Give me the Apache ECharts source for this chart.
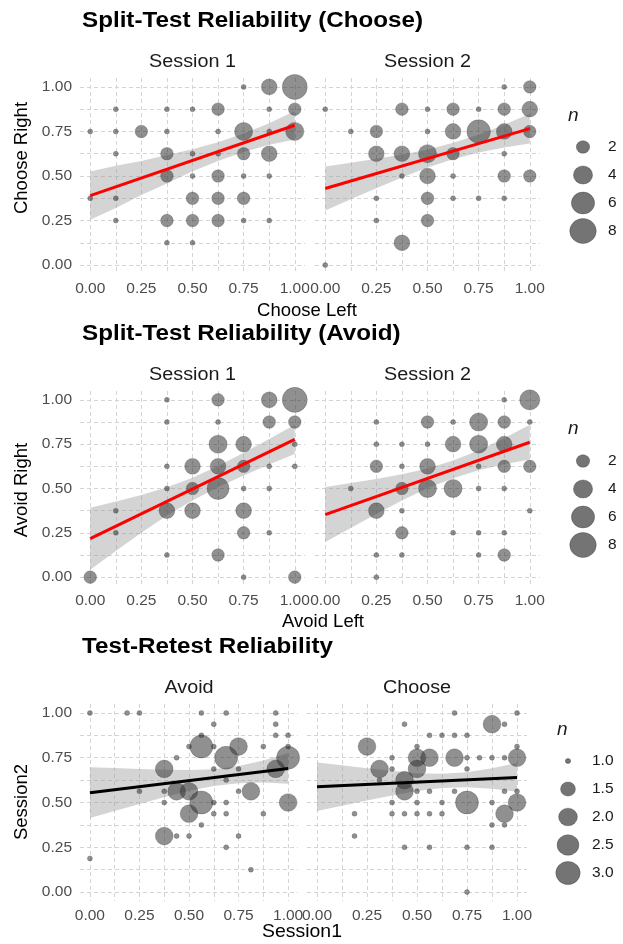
<!DOCTYPE html>
<html>
<head>
<meta charset="utf-8">
<style>html,body{margin:0;padding:0;background:#fff}#chart{width:623px;height:944px}</style>
<script src="https://cdn.jsdelivr.net/npm/echarts@6/dist/echarts.min.js"></script>
</head>
<body>
<div id="chart"></div>
<script>
// ---------- data ----------
const tickVals = [0, 0.25, 0.5, 0.75, 1];
const gridVals = [0, 0.125, 0.25, 0.375, 0.5, 0.625, 0.75, 0.875, 1];
const bandX = [0, 0.125, 0.25, 0.375, 0.5, 0.625, 0.75, 0.875, 1];

// [x, y, n]
const chooseS1 = [
  [0.75,1,1],[0.875,1,3],[1,1,8],
  [0.125,0.875,1],[0.375,0.875,1],[0.5,0.875,1],[0.625,0.875,2],[0.875,0.875,1],[1,0.875,2],
  [0,0.75,1],[0.125,0.75,1],[0.25,0.75,2],[0.375,0.75,1],[0.625,0.75,1],[0.75,0.75,4],[0.875,0.75,1],[1,0.75,4],
  [0.125,0.625,1],[0.375,0.625,2],[0.5,0.625,1],[0.625,0.625,1],[0.75,0.625,2],[0.875,0.625,3],
  [0.375,0.5,2],[0.5,0.5,1],[0.625,0.5,2],[0.75,0.5,1],[0.875,0.5,1],
  [0,0.375,1],[0.125,0.375,1],[0.5,0.375,2],[0.625,0.375,2],[0.75,0.375,2],
  [0.125,0.25,1],[0.375,0.25,2],[0.5,0.25,2],[0.625,0.25,2],[0.75,0.25,1],[0.875,0.25,1],
  [0.375,0.125,1],[0.5,0.125,1]
];
const chooseS2 = [
  [0.875,1,1],[1,1,2],
  [0,0.875,1],[0.375,0.875,2],[0.5,0.875,1],[0.625,0.875,2],[0.75,0.875,1],[0.875,0.875,2],[1,0.875,3],
  [0.125,0.75,1],[0.25,0.75,2],[0.5,0.75,1],[0.625,0.75,3],[0.75,0.75,7],[0.875,0.75,3],[1,0.75,2],
  [0.25,0.625,3],[0.375,0.625,3],[0.5,0.625,4],[0.625,0.625,2],[0.875,0.625,1],
  [0.375,0.5,1],[0.5,0.5,3],[0.625,0.5,1],[0.875,0.5,2],[1,0.5,2],
  [0.25,0.375,1],[0.5,0.375,2],[0.625,0.375,1],[0.75,0.375,1],[0.875,0.375,1],
  [0.25,0.25,1],[0.5,0.25,2],
  [0.375,0.125,3],
  [0,0,1]
];
const avoidS1 = [
  [0.375,1,1],[0.625,1,2],[0.875,1,3],[1,1,8],
  [0.375,0.875,1],[0.625,0.875,1],[0.875,0.875,2],[1,0.875,2],
  [0.625,0.75,4],[0.75,0.75,3],[1,0.75,1],
  [0.375,0.625,1],[0.5,0.625,3],[0.625,0.625,3],[0.75,0.625,2],[0.875,0.625,1],[1,0.625,1],
  [0.375,0.5,1],[0.5,0.5,2],[0.625,0.5,6],[0.75,0.5,1],[0.875,0.5,1],
  [0.125,0.375,1],[0.375,0.375,3],[0.5,0.375,3],[0.75,0.375,3],
  [0.125,0.25,1],[0.75,0.25,2],[0.875,0.25,1],
  [0.375,0.125,1],[0.625,0.125,2],
  [0,0,2],[0.75,0,1],[1,0,2]
];
const avoidS2 = [
  [0.875,1,1],[1,1,5],
  [0.25,0.875,1],[0.5,0.875,2],[0.625,0.875,1],[0.75,0.875,4],[0.875,0.875,2],[1,0.875,1],
  [0.25,0.75,1],[0.375,0.75,1],[0.5,0.75,1],[0.625,0.75,3],[0.75,0.75,4],[0.875,0.75,3],
  [0.25,0.625,2],[0.375,0.625,1],[0.5,0.625,3],[0.75,0.625,1],[0.875,0.625,2],[1,0.625,2],
  [0.125,0.5,1],[0.375,0.5,2],[0.5,0.5,4],[0.625,0.5,4],[0.75,0.5,1],[0.875,0.5,1],
  [0.25,0.375,3],[0.375,0.375,1],[1,0.375,1],
  [0.375,0.25,2],[0.625,0.25,1],[0.75,0.25,1],[0.875,0.25,1],
  [0.25,0.125,1],[0.375,0.125,1],[0.75,0.125,1],[0.875,0.125,2],
  [0.25,0,1]
];
const retestAvoid = [
  [0,1,1],[0.1875,1,1],[0.25,1,1],[0.5625,1,1],[0.6875,1,1],[0.9375,1,1],
  [0.625,0.9375,1],[0.9375,0.9375,1],
  [0.5625,0.875,1],[0.9375,0.875,1],[1,0.875,1],
  [0.5,0.8125,1],[0.5625,0.8125,3],[0.625,0.8125,1],[0.75,0.8125,2],[0.875,0.8125,1],[1,0.8125,1],
  [0.4375,0.75,1],[0.6875,0.75,3],[1,0.75,3],
  [0.375,0.6875,2],[0.625,0.6875,1],[0.75,0.6875,1],[0.9375,0.6875,2],
  [0.6875,0.625,1],
  [0.25,0.5625,1],[0.375,0.5625,1],[0.4375,0.5625,2],[0.5,0.5625,2],[0.75,0.5625,1],[0.8125,0.5625,2],
  [0.375,0.5,1],[0.5625,0.5,3],[0.625,0.5,1],[0.6875,0.5,1],[1,0.5,2],
  [0.5,0.4375,2],[0.625,0.4375,1],[0.6875,0.4375,1],[0.875,0.4375,1],
  [0.5625,0.375,1],
  [0.375,0.3125,2],[0.4375,0.3125,1],[0.5,0.3125,1],[0.75,0.3125,1],
  [0.6875,0.25,1],
  [0,0.1875,1],
  [0.8125,0.125,1]
];
const retestChoose = [
  [0.6875,1,1],[1,1,1],
  [0.4375,0.9375,1],[0.875,0.9375,2],[0.9375,0.9375,1],
  [0.5625,0.875,1],[0.625,0.875,1],[0.6875,0.875,1],[0.75,0.875,1],
  [0.25,0.8125,2],[0.5,0.8125,1],[1,0.8125,1],
  [0.375,0.75,1],[0.5,0.75,2],[0.5625,0.75,2],[0.6875,0.75,2],[0.75,0.75,1],[0.8125,0.75,1],[0.875,0.75,1],[0.9375,0.75,1],[1,0.75,2],
  [0.3125,0.6875,2],[0.375,0.6875,1],[0.5,0.6875,2],[0.75,0.6875,1],
  [0.3125,0.625,1],[0.4375,0.625,2],
  [0.4375,0.5625,2],[0.5,0.5625,1],[0.5625,0.5625,1],[0.6875,0.5625,1],[0.9375,0.5625,1],[1,0.5625,1],
  [0.375,0.5,1],[0.5,0.5,1],[0.625,0.5,1],[0.75,0.5,3],[0.875,0.5,1],[1,0.5,2],
  [0.1875,0.4375,1],[0.375,0.4375,1],[0.4375,0.4375,1],[0.5,0.4375,1],[0.5625,0.4375,1],[0.625,0.4375,1],[0.9375,0.4375,2],
  [0.875,0.375,1],[0.9375,0.375,1],
  [0.1875,0.3125,1],
  [0.4375,0.25,1],[0.5625,0.25,1],[0.75,0.25,1],[0.875,0.25,1],
  [0.75,0,1]
];

// regression fit endpoints (x=0, x=1) and confidence band edges at bandX
const fitChooseS1 = [0.39, 0.785];
const loChooseS1 = [0.255, 0.321, 0.394, 0.458, 0.526, 0.584, 0.634, 0.676, 0.705];
const hiChooseS1 = [0.525, 0.557, 0.584, 0.618, 0.650, 0.690, 0.738, 0.796, 0.865];
const fitChooseS2 = [0.43, 0.766];
const loChooseS2 = [0.307, 0.369, 0.431, 0.492, 0.548, 0.594, 0.632, 0.660, 0.683];
const hiChooseS2 = [0.553, 0.575, 0.597, 0.620, 0.648, 0.686, 0.732, 0.788, 0.849];
const fitAvoidS1 = [0.217, 0.777];
const loAvoidS1 = [0.042, 0.147, 0.250, 0.347, 0.433, 0.507, 0.573, 0.635, 0.694];
const hiAvoidS1 = [0.392, 0.427, 0.464, 0.507, 0.561, 0.627, 0.701, 0.779, 0.860];
const fitAvoidS2 = [0.353, 0.761];
const loAvoidS2 = [0.198, 0.277, 0.356, 0.432, 0.501, 0.558, 0.603, 0.637, 0.663];
const hiAvoidS2 = [0.508, 0.531, 0.554, 0.580, 0.613, 0.658, 0.715, 0.783, 0.859];
const fitRetestAvoid = [0.555, 0.69];
const loRetestAvoid = [0.413, 0.452, 0.491, 0.529, 0.565, 0.592, 0.608, 0.611, 0.604];
const hiRetestAvoid = [0.697, 0.692, 0.687, 0.683, 0.681, 0.686, 0.704, 0.735, 0.776];
const fitRetestChoose = [0.588, 0.64];
const loRetestChoose = [0.453, 0.482, 0.511, 0.539, 0.564, 0.581, 0.585, 0.577, 0.560];
const hiRetestChoose = [0.723, 0.708, 0.691, 0.677, 0.664, 0.661, 0.669, 0.691, 0.720];

const legendSplit = [2, 4, 6, 8];
const legendRetest = [1.0, 1.5, 2.0, 2.5, 3.0];

// ---------- styling / layout ----------
const FONT = '"Liberation Sans", Arial, sans-serif';
const splitSize = n => 5 + 20 * Math.sqrt((n - 1) / 7);
const retestSize = n => 5 + 18 * Math.sqrt((n - 1) / 2);
const pointColor = 'rgba(50,50,50,0.68)';
const bandColor = 'rgba(153,153,153,0.42)';

const panels = [
  {grid:{left:80, top:78, width:225, height:196}, pts:chooseS1, fit:fitChooseS1, lo:loChooseS1, hi:hiChooseS1, line:'#ff0000', size:splitSize, yLab:true},
  {grid:{left:315, top:78, width:225, height:196}, pts:chooseS2, fit:fitChooseS2, lo:loChooseS2, hi:hiChooseS2, line:'#ff0000', size:splitSize, yLab:false},
  {grid:{left:80, top:391, width:225, height:195}, pts:avoidS1, fit:fitAvoidS1, lo:loAvoidS1, hi:hiAvoidS1, line:'#ff0000', size:splitSize, yLab:true},
  {grid:{left:315, top:391, width:225, height:195}, pts:avoidS2, fit:fitAvoidS2, lo:loAvoidS2, hi:hiAvoidS2, line:'#ff0000', size:splitSize, yLab:false},
  {grid:{left:80, top:704, width:218, height:197}, pts:retestAvoid, fit:fitRetestAvoid, lo:loRetestAvoid, hi:hiRetestAvoid, line:'#000000', size:retestSize, yLab:true},
  {grid:{left:307, top:704, width:220, height:197}, pts:retestChoose, fit:fitRetestChoose, lo:loRetestChoose, hi:hiRetestChoose, line:'#000000', size:retestSize, yLab:false}
];

const grids = [], xAxes = [], yAxes = [], series = [];
const splitLine = {show:true, lineStyle:{type:[4,3], color:'#d4d4d4', width:1}};
const labelStyle = {fontSize:15.5, color:'#4d4d4d', fontFamily:FONT, formatter: v => Number(v).toFixed(2)};

panels.forEach((p, i) => {
  grids.push(Object.assign({containLabel:false}, p.grid));
  xAxes.push({type:'value', gridIndex:i, min:-0.05, max:1.05,
    axisLine:{show:false}, axisTick:{show:false, customValues:gridVals},
    axisLabel:Object.assign({customValues:tickVals, margin:7}, labelStyle),
    splitLine:splitLine});
  yAxes.push({type:'value', gridIndex:i, min:-0.05, max:1.05,
    axisLine:{show:false}, axisTick:{show:false, customValues:gridVals},
    axisLabel:Object.assign({customValues:tickVals, margin:8, show:p.yLab}, labelStyle),
    splitLine:splitLine});
  series.push({type:'scatter', xAxisIndex:i, yAxisIndex:i, data:p.pts,
    symbolSize: v => p.size(v[2]),
    itemStyle:{color:pointColor, borderColor:'rgba(40,40,40,0.5)', borderWidth:0.6},
    clip:true, silent:true});
  const bandData = bandX.map((x, k) => [x, p.lo[k], p.hi[k]]);
  series.push({type:'custom', xAxisIndex:i, yAxisIndex:i, data:bandData, silent:true,
    encode:{x:0, y:[1, 2]},
    renderItem: (params, api) => {
      if (params.dataIndex !== 0) return null;
      const lower = bandData.map(d => api.coord([d[0], d[1]]));
      const upper = bandData.map(d => api.coord([d[0], d[2]])).reverse();
      return {type:'polygon', shape:{points:lower.concat(upper)}, style:{fill:bandColor}};
    }});
  series.push({type:'line', xAxisIndex:i, yAxisIndex:i, data:[[0, p.fit[0]], [1, p.fit[1]]],
    symbol:'none', lineStyle:{color:p.line, width:3}, silent:true});
});

// text graphics
const g = [];
function txt(text, x, y, font, opts) {
  opts = opts || {};
  g.push({type:'text', x:x, y:y, rotation:opts.rot || 0, scaleX:opts.sx || 1, silent:true, z:10,
    style:{text:text, font:font, fill:opts.fill || '#000', textAlign:opts.align || 'left', align:opts.align || 'left',
      textVerticalAlign:'middle', verticalAlign:'middle'}});
}
const titleFont = 'bold 22px ' + FONT;
const stripFont = '18px ' + FONT;
const axisFont = '18.5px ' + FONT;
txt('Split-Test Reliability (Choose)', 82, 21, titleFont, {sx:1.1});
txt('Split-Test Reliability (Avoid)', 82, 334, titleFont, {sx:1.1});
txt('Test-Retest Reliability', 82, 647, titleFont, {sx:1.1});
txt('Session 1', 192.5, 62, stripFont, {align:'center', sx:1.1, fill:'#1a1a1a'});
txt('Session 2', 427.5, 62, stripFont, {align:'center', sx:1.1, fill:'#1a1a1a'});
txt('Session 1', 192.5, 375, stripFont, {align:'center', sx:1.1, fill:'#1a1a1a'});
txt('Session 2', 427.5, 375, stripFont, {align:'center', sx:1.1, fill:'#1a1a1a'});
txt('Avoid', 189, 688, stripFont, {align:'center', sx:1.1, fill:'#1a1a1a'});
txt('Choose', 417, 688, stripFont, {align:'center', sx:1.1, fill:'#1a1a1a'});
txt('Choose Left', 307, 311, axisFont, {align:'center'});
txt('Avoid Left', 323, 622, axisFont, {align:'center'});
txt('Session1', 302, 932, axisFont, {align:'center', sx:1.05});
txt('Choose Right', 22, 158, axisFont, {align:'center', rot:Math.PI/2});
txt('Avoid Right', 22, 490, axisFont, {align:'center', rot:Math.PI/2});
txt('Session2', 22, 802, axisFont, {align:'center', rot:Math.PI/2});

// legends
function legend(vals, sizeFn, nx, ny, cx, cy0, step, lx, fmt) {
  txt('n', nx, ny, 'italic 19px ' + FONT, {fill:'#1a1a1a'});
  vals.forEach((v, k) => {
    const cy = cy0 + k * step;
    g.push({type:'circle', x:cx, y:cy, silent:true, scaleX:1.06,
      shape:{cx:0, cy:0, r:sizeFn(v) / 2},
      style:{fill:pointColor, stroke:'rgba(40,40,40,0.5)', lineWidth:0.6}});
    txt(fmt(v), lx, cy, '15.5px ' + FONT, {fill:'#1a1a1a'});
  });
}
legend(legendSplit, splitSize, 568, 116, 583, 147, 28, 608, v => String(v));
legend(legendSplit, splitSize, 568, 429, 583, 461, 28, 608, v => String(v));
legend(legendRetest, retestSize, 557, 730, 568, 761, 28, 592, v => v.toFixed(1));
// the reference picture is cut off at its right edge
g.push({type:'rect', shape:{x:616, y:0, width:10, height:944}, style:{fill:'#ffffff'}, silent:true, z:20});

const chart = echarts.init(document.getElementById('chart'), null, {renderer:'canvas'});
chart.setOption({
  animation:false,
  backgroundColor:'#ffffff',
  grid:grids, xAxis:xAxes, yAxis:yAxes, series:series, graphic:g
});
</script>
</body>
</html>
